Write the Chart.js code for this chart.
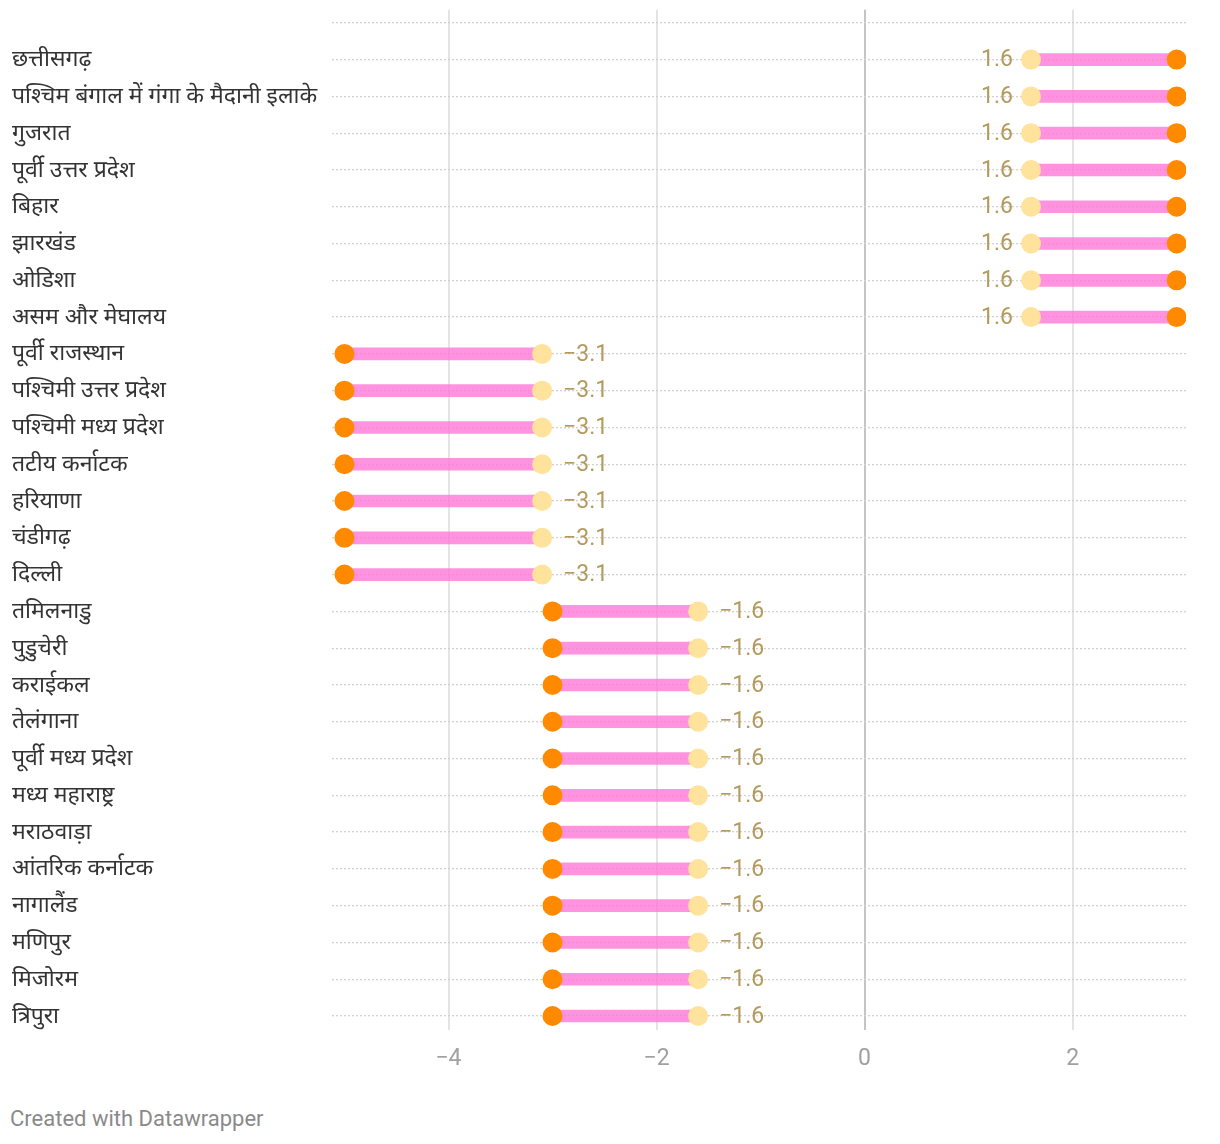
<!DOCTYPE html>
<html>
<head>
<meta charset="utf-8">
<script src="https://cdn.jsdelivr.net/npm/chart.js@4"></script>
<style>
  html, body { margin: 0; padding: 0; background: #fff; }
  #wrap { position: absolute; left: 0; top: -4px; width: 1220px; height: 1094px; }
  #footer { position: absolute; left: 10px; top: 1106px; font-family: Roboto, sans-serif; font-size: 22px; color: #8a8a8a; }
</style>
</head>
<body>
<div id="wrap"><canvas id="c"></canvas></div>
<div id="footer">Created with Datawrapper</div>
<script>
const regions = [
  "छत्तीसगढ़", "पश्चिम बंगाल में गंगा के मैदानी इलाके", "गुजरात", "पूर्वी उत्तर प्रदेश", "बिहार", "झारखंड", "ओडिशा", "असम और मेघालय",
  "पूर्वी राजस्थान", "पश्चिमी उत्तर प्रदेश", "पश्चिमी मध्य प्रदेश", "तटीय कर्नाटक", "हरियाणा", "चंडीगढ़", "दिल्ली",
  "तमिलनाडु", "पुडुचेरी", "कराईकल", "तेलंगाना", "पूर्वी मध्य प्रदेश", "मध्य महाराष्ट्र", "मराठवाड़ा", "आंतरिक कर्नाटक", "नागालैंड", "मणिपुर", "मिजोरम", "त्रिपुरा"
];
const labeledValues = [
  1.6, 1.6, 1.6, 1.6, 1.6, 1.6, 1.6, 1.6,
  -3.1, -3.1, -3.1, -3.1, -3.1, -3.1, -3.1,
  -1.6, -1.6, -1.6, -1.6, -1.6, -1.6, -1.6, -1.6, -1.6, -1.6, -1.6, -1.6
];
const otherValues = [
  3.0, 3.0, 3.0, 3.0, 3.0, 3.0, 3.0, 3.0,
  -5.0, -5.0, -5.0, -5.0, -5.0, -5.0, -5.0,
  -3.0, -3.0, -3.0, -3.0, -3.0, -3.0, -3.0, -3.0, -3.0, -3.0, -3.0, -3.0
];
const xTicks = [-4, -2, 0, 2];

const fmt = v => (v < 0 ? "\u2212" : "") + Math.abs(v).toString();

const valueLabels = {
  id: "valueLabels",
  afterDatasetsDraw(chart) {
    const meta = chart.getDatasetMeta(2);
    const ctx = chart.ctx;
    ctx.save();
    ctx.font = "23px Roboto";
    ctx.fillStyle = "#b49a5c";
    ctx.textBaseline = "middle";
    meta.data.forEach((pt, i) => {
      const lv = labeledValues[i], ov = otherValues[i];
      if (lv > ov) {
        ctx.textAlign = "left";
        ctx.fillText(fmt(lv), pt.x + 21, pt.y + 1);
      } else {
        ctx.textAlign = "right";
        ctx.fillText(fmt(lv), pt.x - 18, pt.y + 1);
      }
    });
    ctx.restore();
  }
};

new Chart(document.getElementById("c"), {
  type: "bar",
  data: {
    datasets: [
      {
        type: "bar",
        indexAxis: "y",
        data: regions.map((r, i) => ({ y: i, x: [otherValues[i], labeledValues[i]] })),
        backgroundColor: "rgba(255,120,215,0.8)",
        barThickness: 12,
        borderSkipped: false,
        order: 3
      },
      {
        type: "scatter",
        data: otherValues.map((v, i) => ({ x: v, y: i })),
        backgroundColor: "#ff8a00",
        borderWidth: 0,
        pointRadius: 10,
        pointHoverRadius: 10,
        order: 1
      },
      {
        type: "scatter",
        data: labeledValues.map((v, i) => ({ x: v, y: i })),
        backgroundColor: "#ffe39c",
        borderWidth: 0,
        pointRadius: 10,
        pointHoverRadius: 10,
        order: 2
      }
    ]
  },
  options: {
    responsive: true,
    maintainAspectRatio: false,
    animation: false,
    layout: { padding: { left: 12, top: 7, right: 34, bottom: 0 } },
    plugins: { legend: { display: false }, tooltip: { enabled: false } },
    scales: {
      x: {
        type: "linear",
        offset: false,
        min: -5.12,
        max: 3.09,
        afterBuildTicks: s => { s.ticks = xTicks.map(v => ({ value: v })); },
        afterFit: s => { s.height = 60; },
        border: { display: false },
        grid: {
          offset: false,
          drawTicks: false,
          color: c => (c.tick && c.tick.value === 0 ? "#c4c4c4" : "#e4e4e4"),
          lineWidth: 2
        },
        ticks: {
          padding: 15,
          color: "#a0a0a0",
          font: { family: "Roboto", size: 23 },
          callback: v => fmt(v)
        }
      },
      y: {
        type: "linear",
        offset: false,
        reverse: true,
        min: -1.354,
        max: 26.38,
        afterBuildTicks: s => { s.ticks = Array.from({ length: 28 }, (_, k) => ({ value: k - 1 })); },
        afterFit: s => { s.width = 320; },
        border: { display: false, dash: [2, 2] },
        grid: {
          offset: false,
          drawTicks: false,
          color: "#d2d2d2",
          lineWidth: 1.3
        },
        ticks: {
          crossAlign: "far",
          padding: 0,
          autoSkip: false,
          color: "#333333",
          font: { family: "Noto Sans", size: 23 },
          callback: v => (v >= 0 && v < regions.length ? regions[v] : "")
        }
      }
    }
  },
  plugins: [valueLabels]
});
</script>
</body>
</html>
